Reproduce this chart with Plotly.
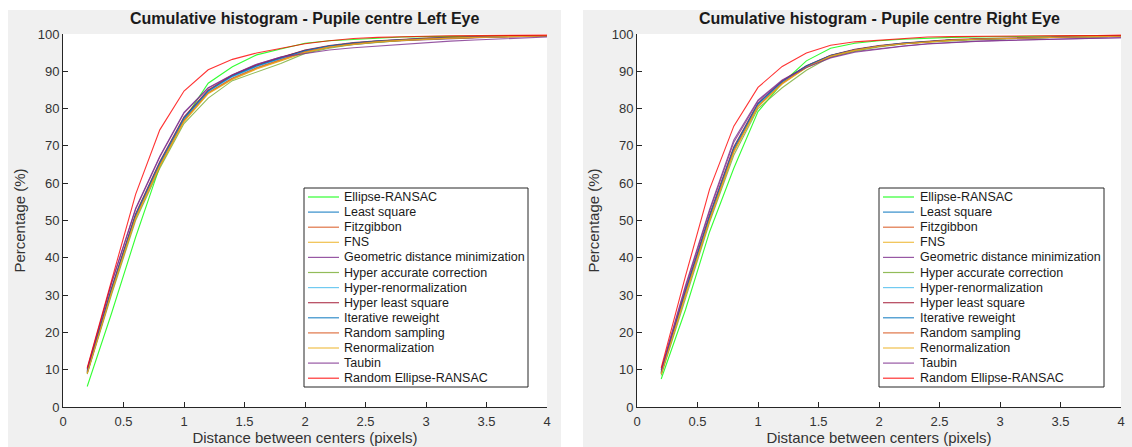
import plotly.graph_objects as go

W, H = 1132, 447

# ---------------- data ----------------
x_vals = [0.2, 0.4, 0.6, 0.8, 1.0, 1.2, 1.4, 1.6, 1.8, 2.0,
          2.2, 2.4, 2.6, 2.8, 3.0, 3.2, 3.4, 3.6, 3.8, 4.0]

methods = ["Ellipse-RANSAC", "Least square", "Fitzgibbon", "FNS",
           "Geometric distance minimization", "Hyper accurate correction",
           "Hyper-renormalization", "Hyper least square", "Iterative reweight",
           "Random sampling", "Renormalization", "Taubin", "Random Ellipse-RANSAC"]

colors = ["#00FF00", "#0072BD", "#D95319", "#EDB120", "#7E2F8E", "#77AC30",
          "#4DBEEE", "#A2142F", "#0072BD", "#D95319", "#EDB120", "#7E2F8E", "#FF0000"]

x_ticks = [0, 0.5, 1, 1.5, 2, 2.5, 3, 3.5, 4]
x_tick_labels = ["0", "0.5", "1", "1.5", "2", "2.5", "3", "3.5", "4"]
y_ticks = [0, 10, 20, 30, 40, 50, 60, 70, 80, 90, 100]

titles = ["Cumulative histogram - Pupile centre Left Eye",
          "Cumulative histogram - Pupile centre Right Eye"]
x_title = "Distance between centers (pixels)"
y_title = "Percentage (%)"

# Left eye
left_ellipse_ransac = [5.5, 25.0, 45.5, 64.5, 77.0, 86.8, 91.2, 94.4, 96.0, 97.5, 98.2, 98.6, 98.9, 99.2, 99.3, 99.4, 99.5, 99.5, 99.6, 99.6]
left_least_square = [9.5, 31.5, 51.5, 65.5, 77.5, 84.8, 88.8, 91.5, 93.6, 95.6, 96.8, 97.6, 98.1, 98.5, 98.8, 99.0, 99.2, 99.3, 99.4, 99.5]
left_fitzgibbon = [9.2, 31.0, 51.0, 65.0, 77.0, 84.3, 88.2, 91.0, 93.2, 95.3, 96.6, 97.4, 98.0, 98.4, 98.7, 98.9, 99.1, 99.3, 99.4, 99.5]
left_fns = [9.0, 30.5, 50.5, 64.5, 76.5, 84.0, 87.8, 90.6, 92.8, 95.0, 96.4, 97.3, 97.9, 98.3, 98.7, 98.9, 99.1, 99.2, 99.4, 99.5]
left_geometric = [10.0, 33.0, 53.0, 67.0, 78.8, 85.5, 89.0, 91.8, 93.8, 95.5, 96.5, 97.2, 97.8, 98.2, 98.5, 98.8, 99.0, 99.2, 99.3, 99.4]
left_hyper_accurate = [8.8, 30.0, 50.0, 64.0, 76.0, 82.8, 87.5, 89.9, 92.1, 94.8, 96.2, 97.2, 97.8, 98.3, 98.6, 98.9, 99.1, 99.3, 99.4, 99.5]
left_hyper_renorm = [9.3, 31.2, 51.2, 65.2, 77.2, 84.5, 88.5, 91.2, 93.4, 95.4, 96.7, 97.5, 98.1, 98.5, 98.8, 99.0, 99.2, 99.3, 99.4, 99.5]
left_hyper_least_square = [9.6, 31.8, 51.8, 65.8, 77.8, 85.0, 89.0, 91.7, 93.7, 95.7, 96.9, 97.7, 98.2, 98.6, 98.9, 99.1, 99.3, 99.4, 99.5, 99.6]
left_iterative_reweight = [9.4, 31.4, 51.4, 65.4, 77.4, 84.7, 88.7, 91.4, 93.5, 95.5, 96.8, 97.6, 98.1, 98.5, 98.8, 99.0, 99.2, 99.3, 99.4, 99.5]
left_random_sampling = [9.1, 30.8, 50.8, 64.8, 76.8, 84.2, 88.0, 90.8, 93.0, 95.2, 96.5, 97.4, 98.0, 98.4, 98.7, 98.9, 99.1, 99.3, 99.4, 99.5]
left_renormalization = [9.0, 30.6, 50.6, 64.6, 76.6, 84.1, 87.9, 90.7, 92.9, 95.1, 96.5, 97.3, 97.9, 98.3, 98.7, 98.9, 99.1, 99.2, 99.4, 99.5]
left_taubin = [10.2, 33.2, 53.2, 67.2, 79.0, 85.6, 89.1, 91.9, 93.8, 94.8, 95.7, 96.3, 96.8, 97.3, 97.7, 98.1, 98.4, 98.7, 99.0, 99.2]
left_random_ellipse_ransac = [10.5, 34.0, 57.0, 74.3, 84.7, 90.4, 93.2, 94.9, 96.1, 97.4, 98.2, 98.8, 99.1, 99.3, 99.4, 99.5, 99.5, 99.6, 99.6, 99.7]

# Right eye
right_ellipse_ransac = [7.5, 26.0, 47.0, 64.0, 79.2, 86.8, 92.8, 96.2, 97.5, 98.2, 98.6, 98.9, 99.1, 99.2, 99.3, 99.4, 99.5, 99.5, 99.5, 99.6]
right_least_square = [9.2, 30.8, 51.0, 69.3, 81.2, 87.2, 91.4, 94.2, 95.8, 96.8, 97.5, 98.0, 98.4, 98.6, 98.8, 99.0, 99.1, 99.2, 99.3, 99.4]
right_fitzgibbon = [9.0, 30.3, 50.4, 68.8, 80.8, 86.9, 91.2, 94.1, 95.7, 96.7, 97.4, 98.0, 98.4, 98.6, 98.8, 99.0, 99.1, 99.2, 99.3, 99.4]
right_fns = [8.8, 29.8, 50.0, 68.3, 80.5, 86.6, 91.0, 94.0, 95.6, 96.7, 97.4, 97.9, 98.3, 98.6, 98.8, 99.0, 99.1, 99.2, 99.3, 99.4]
right_geometric = [10.0, 32.5, 53.0, 71.6, 82.3, 87.7, 91.2, 93.8, 95.3, 96.1, 96.8, 97.4, 97.8, 98.1, 98.3, 98.5, 98.7, 98.8, 98.9, 99.0]
right_hyper_accurate = [8.5, 29.0, 49.5, 67.5, 80.0, 85.6, 90.3, 93.9, 95.4, 96.5, 97.3, 97.8, 98.2, 98.5, 98.7, 98.9, 99.1, 99.2, 99.3, 99.4]
right_hyper_renorm = [9.1, 30.6, 50.8, 69.0, 81.0, 87.1, 91.3, 94.2, 95.8, 96.8, 97.5, 98.0, 98.4, 98.6, 98.8, 99.0, 99.1, 99.2, 99.3, 99.4]
right_hyper_least_square = [9.4, 31.3, 51.6, 69.8, 81.5, 87.4, 91.5, 94.3, 95.9, 96.9, 97.6, 98.1, 98.5, 98.7, 98.9, 99.1, 99.2, 99.3, 99.4, 99.5]
right_iterative_reweight = [9.2, 30.9, 51.1, 69.4, 81.3, 87.3, 91.4, 94.2, 95.8, 96.8, 97.5, 98.0, 98.4, 98.6, 98.8, 99.0, 99.1, 99.2, 99.3, 99.4]
right_random_sampling = [8.9, 30.2, 50.3, 68.7, 80.7, 86.8, 91.1, 94.1, 95.7, 96.7, 97.4, 98.0, 98.4, 98.6, 98.8, 99.0, 99.1, 99.2, 99.3, 99.4]
right_renormalization = [8.8, 29.9, 50.1, 68.4, 80.6, 86.7, 91.0, 94.0, 95.6, 96.7, 97.4, 97.9, 98.3, 98.6, 98.8, 99.0, 99.1, 99.2, 99.3, 99.4]
right_taubin = [9.8, 32.0, 52.5, 71.0, 82.0, 87.5, 91.0, 93.6, 95.1, 96.0, 96.7, 97.3, 97.7, 98.0, 98.2, 98.4, 98.6, 98.8, 98.9, 99.0]
right_random_ellipse_ransac = [10.5, 35.0, 58.4, 75.3, 85.7, 91.3, 94.9, 97.0, 97.9, 98.4, 98.9, 99.2, 99.3, 99.4, 99.5, 99.5, 99.6, 99.6, 99.6, 99.7]

left_series = [left_ellipse_ransac, left_least_square, left_fitzgibbon, left_fns,
               left_geometric, left_hyper_accurate, left_hyper_renorm,
               left_hyper_least_square, left_iterative_reweight, left_random_sampling,
               left_renormalization, left_taubin, left_random_ellipse_ransac]
right_series = [right_ellipse_ransac, right_least_square, right_fitzgibbon, right_fns,
                right_geometric, right_hyper_accurate, right_hyper_renorm,
                right_hyper_least_square, right_iterative_reweight, right_random_sampling,
                right_renormalization, right_taubin, right_random_ellipse_ransac]

# ---------------- figure ----------------
FONT = "Liberation Sans, Arial, Helvetica, sans-serif"
AX = "#262626"


def fx(px):
    return px / W


def fy(py):
    return 1 - py / H


fig = go.Figure()

for panel, series in enumerate([left_series, right_series]):
    xa = "x" if panel == 0 else "x2"
    ya = "y" if panel == 0 else "y2"
    for name, vals, col in zip(methods, series, colors):
        fig.add_trace(go.Scatter(
            x=x_vals, y=vals, mode="lines", name=name,
            line=dict(color=col, width=1.1), opacity=0.8,
            xaxis=xa, yaxis=ya, showlegend=False, hoverinfo="x+y+name"))

axis_common = dict(showgrid=False, zeroline=False, showline=True, linecolor=AX,
                   linewidth=1, ticks="inside", ticklen=5, tickcolor=AX,
                   tickfont=dict(family=FONT, size=13, color="#333333"), mirror=False,
                   automargin=False)

panels = [
    dict(ax0=63, ax1=547, bg0=8, bg1=561),
    dict(ax0=637, ax1=1121, bg0=583, bg1=1132),
]
ay0, ay1 = 34, 407

title_font = dict(family=FONT, size=15, color="#333333")

fig.update_layout(
    width=W, height=H,
    margin=dict(l=0, r=0, t=0, b=0, autoexpand=False),
    paper_bgcolor="white", plot_bgcolor="rgba(0,0,0,0)",
    font=dict(family=FONT, color=AX),
    showlegend=False,
    xaxis=dict(domain=[fx(63), fx(547)], range=[0, 4], tickvals=x_ticks,
               ticktext=x_tick_labels, anchor="y", ticklabelstandoff=2,
               title=dict(text=x_title, font=title_font, standoff=4),
               **axis_common),
    yaxis=dict(domain=[fy(ay1), fy(ay0)], range=[0, 100], tickvals=y_ticks, anchor="x",
               title=dict(text=y_title, font=title_font, standoff=8),
               **axis_common),
    xaxis2=dict(domain=[fx(637), fx(1121)], range=[0, 4], tickvals=x_ticks,
                ticktext=x_tick_labels, anchor="y2", ticklabelstandoff=2,
                title=dict(text=x_title, font=title_font, standoff=4),
                **axis_common),
    yaxis2=dict(domain=[fy(ay1), fy(ay0)], range=[0, 100], tickvals=y_ticks, anchor="x2",
                title=dict(text=y_title, font=title_font, standoff=8),
                **axis_common),
)

shapes = []
annotations = []
for p, pan in enumerate(panels):
    # gray figure panel
    shapes.append(dict(type="rect", xref="paper", yref="paper", layer="below",
                       x0=fx(pan["bg0"]), x1=fx(pan["bg1"]), y0=fy(447), y1=fy(10),
                       fillcolor="#f0f0f0", line=dict(width=0)))
    # white axes area
    shapes.append(dict(type="rect", xref="paper", yref="paper", layer="below",
                       x0=fx(pan["ax0"]), x1=fx(pan["ax1"]), y0=fy(ay1), y1=fy(ay0),
                       fillcolor="white", line=dict(width=0)))
    # panel title
    annotations.append(dict(text="<b>" + titles[p] + "</b>", xref="paper", yref="paper",
                            x=fx((pan["ax0"] + pan["ax1"]) / 2), y=fy(19),
                            xanchor="center", yanchor="middle", showarrow=False,
                            font=dict(family=FONT, size=16, color="#1a1a1a")))

# legends (drawn manually to reproduce compact MATLAB spacing)
legend_boxes = [
    dict(x0=304, x1=528, y0=188, y1=387, l0=308, l1=339, tx=342),
    dict(x0=879, x1=1104, y0=188, y1=387, l0=883, l1=914, tx=918),
]
first_y, step = 197, 15.1
for lb in legend_boxes:
    shapes.append(dict(type="rect", xref="paper", yref="paper", layer="above",
                       x0=fx(lb["x0"]), x1=fx(lb["x1"]), y0=fy(lb["y1"]), y1=fy(lb["y0"]),
                       fillcolor="white", line=dict(color=AX, width=1)))
    for i, (name, col) in enumerate(zip(methods, colors)):
        yy = first_y + i * step
        shapes.append(dict(type="line", xref="paper", yref="paper", layer="above",
                           x0=fx(lb["l0"]), x1=fx(lb["l1"]), y0=fy(yy), y1=fy(yy),
                           line=dict(color=col, width=1.2), opacity=0.8))
        annotations.append(dict(text=name, xref="paper", yref="paper",
                                x=fx(lb["tx"]), y=fy(yy), xanchor="left", yanchor="middle",
                                showarrow=False,
                                font=dict(family=FONT, size=12.5, color="#1a1a1a")))

fig.update_layout(shapes=shapes, annotations=annotations)

fig.write_html("out.html")
